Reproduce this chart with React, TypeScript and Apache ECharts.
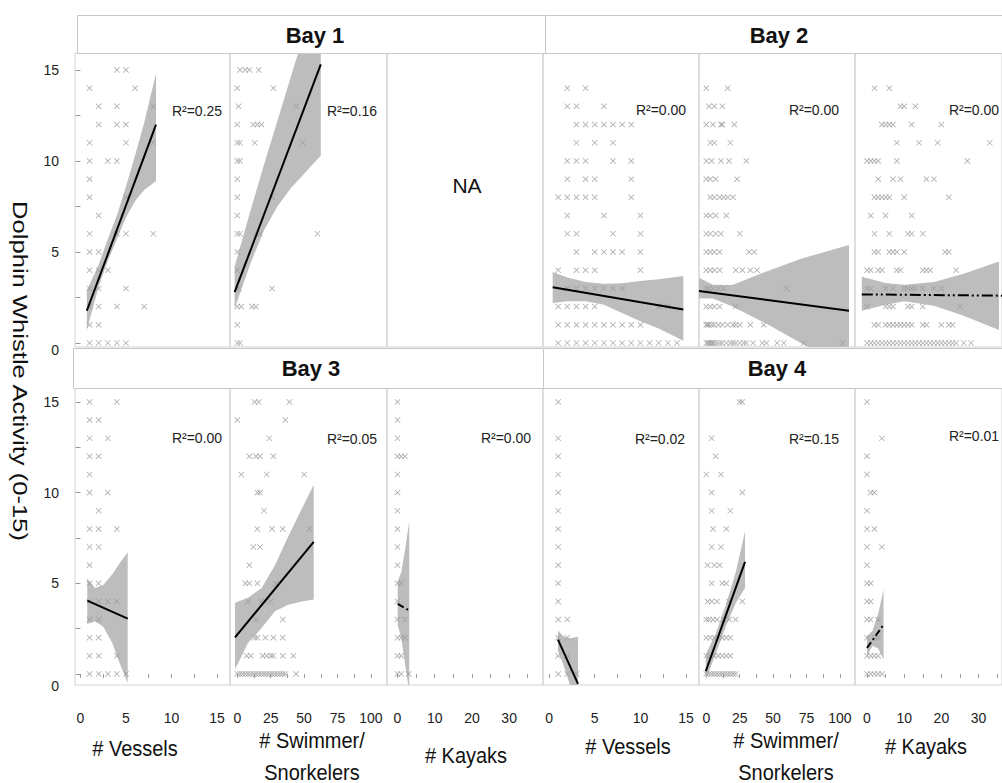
import React, { useEffect, useRef } from "react";
import * as echarts from "echarts";

const FONT = 'Arial, "Liberation Sans", Helvetica, sans-serif';

// ---------- scatter points: [y, x-values at that y] ----------
const B1_VESSELS: [number, number[]][] = [
  [15, [4, 5]], [14, [1, 6]], [13, [2, 4, 8]], [12, [2, 4, 5]], [11, [1, 5, 8]],
  [10, [1, 3, 4]], [9, [1]], [8, [1, 5]], [7, [2]], [6, [1, 4, 5, 8]], [5, [1, 2]],
  [4, [1, 2, 3]], [3, [1, 2, 5]], [2, [1, 2, 4, 7]], [1, [1, 2]], [0, [1, 2, 3, 4, 5]],
];
const B1_SWIM: [number, number[]][] = [
  [15, [2, 6, 9, 16]], [14, [0, 27]], [13, [1, 44]], [12, [0, 12, 15, 18]], [11, [0, 2, 13, 49]],
  [10, [0, 2]], [9, [0]], [8, [0, 26]], [7, [0]], [6, [0, 2, 14, 17, 60]], [5, [0]], [4, [0]],
  [3, [1, 26]], [2, [0, 3, 11, 14]], [1, [0]], [0, [0, 2]],
];
const B2_VESSELS: [number, number[]][] = [
  [14, [2, 4]], [13, [2, 3, 6]], [12, [3, 4, 5, 6, 7, 8, 9]], [11, [3, 5, 7]], [10, [2, 3, 4, 7, 9]],
  [9, [2, 4, 5, 9]], [8, [1, 2, 3, 4, 5, 9]], [7, [2, 6, 10]], [6, [2, 3, 7, 10]],
  [5, [3, 5, 6, 7, 8, 10]], [4, [1, 3, 4, 5, 10]], [3, [2, 3, 4, 5, 6, 7, 8]],
  [2, [1, 2, 3, 4, 5, 12, 13]], [1, [1, 2, 3, 4, 5, 6, 7, 8, 9, 10]],
  [0, [1, 2, 3, 4, 5, 6, 7, 8, 9, 10, 11, 12, 13, 14]],
];
const B2_SWIM: [number, number[]][] = [
  [14, [0, 16]], [13, [2, 6, 12]], [12, [0, 5, 11, 12, 21]], [11, [3, 6, 18]], [10, [0, 4, 11, 17, 30]],
  [9, [0, 3, 7, 23]], [8, [3, 6, 10, 13, 16, 20]], [7, [0, 3, 7, 15]], [6, [0, 3, 7, 11, 25]],
  [5, [0, 3, 6, 10, 32, 36]], [4, [0, 3, 6, 10, 22, 27, 33, 38]], [3, [0, 2, 5, 9, 13, 60]],
  [2, [0, 3, 6, 10, 22]], [1, [0, 1, 2, 4, 6, 9, 12, 16, 20, 22, 25, 33, 43]],
  [0, [0, 1, 2, 3, 4, 5, 6, 8, 10, 12, 15, 18, 20, 22, 25, 28, 30, 35, 42, 45, 53, 58, 73, 102]],
];
const B2_KAYAK: [number, number[]][] = [
  [14, [2, 6]], [13, [9, 10, 13]], [12, [4, 5, 6, 7, 12, 20]], [11, [8, 14, 19, 33]],
  [10, [0, 1, 2, 3, 8, 27]], [9, [3, 7, 9, 16, 18]], [8, [2, 3, 4, 5, 6, 10, 22]], [7, [1, 5, 12]],
  [6, [2, 6, 11, 12, 15]], [5, [2, 3, 6, 7, 8, 10, 21, 22]], [4, [0, 1, 3, 4, 8, 9, 15, 16, 17, 24]],
  [3, [0, 1, 5, 7, 10, 11, 12, 13, 15, 18, 20]], [2, [0, 5, 6, 7, 11, 12, 15, 25]],
  [1, [2, 3, 5, 6, 7, 8, 9, 10, 11, 12, 15, 16, 20, 22, 23]],
  [0, [0, 1, 2, 3, 4, 5, 6, 7, 8, 9, 10, 11, 12, 13, 14, 15, 16, 17, 18, 19, 20, 21, 22, 23, 24, 26, 28]],
];
const B3_VESSELS: [number, number[]][] = [
  [15, [1, 4]], [14, [1, 2]], [13, [1, 3]], [12, [1, 2]], [11, [1]], [10, [1, 3]], [9, [2]],
  [8, [1, 2, 4]], [7, [1, 2]], [6, [1]], [5, [1, 2]], [4, [1, 2, 3, 4]], [3, [1, 2]], [2, [1, 2]],
  [1, [1, 2, 4]], [0, [1, 2, 3, 4, 5]],
];
const B3_SWIM: [number, number[]][] = [
  [15, [13, 16, 39]], [14, [0, 36]], [13, [24]], [12, [9, 14, 17, 27]], [11, [3, 22, 50]],
  [10, [15, 17]], [9, [20]], [8, [15, 26, 34, 54]], [7, [12, 17]], [6, [9]], [5, [6, 9, 15, 29]],
  [4, [8, 18, 21, 25]], [3, [14, 34]], [2, [13, 15, 21, 27, 34]], [1, [7, 10, 19, 22, 25, 27, 34, 42]],
  [0, [0, 2, 4, 6, 8, 10, 12, 14, 16, 18, 20, 22, 24, 26, 28, 30, 32, 34, 36, 44]],
];
const B3_KAYAK: [number, number[]][] = [
  [15, [0]], [14, [0]], [13, [0]], [12, [0, 1, 2]], [11, [0]], [10, [0]], [9, [0]], [8, [0]],
  [7, [0]], [6, [0]], [5, [0, 1]], [4, [0]], [3, [0, 2]], [2, [0, 1, 2]], [1, [0, 1]], [0, [0, 1, 3]],
];
const B4_VESSELS: [number, number[]][] = [
  [15, [1]], [13, [1]], [12, [1]], [11, [1]], [10, [1]], [9, [1]], [8, [1]], [7, [1]], [6, [1]],
  [5, [1]], [4, [1]], [3, [1, 2]], [2, [1, 2]], [1, [1, 2]], [0, [1, 2, 3]],
];
const B4_SWIM: [number, number[]][] = [
  [15, [25, 27]], [13, [4]], [12, [7]], [11, [0, 11]], [10, [4, 27]], [9, [4, 18]], [8, [5, 15]],
  [7, [4, 11]], [6, [1, 6, 10]], [5, [4, 12, 15]], [4, [1, 4, 8, 17, 27]], [3, [0, 2, 5, 8, 13, 17, 22]],
  [2, [0, 3, 6, 9, 12, 15, 18]], [1, [0, 3, 6, 9, 12, 15, 18]], [0, [0, 2, 4, 6, 8, 10, 12, 14, 16, 18, 20, 22]],
];
const B4_KAYAK: [number, number[]][] = [
  [15, [0]], [13, [4]], [12, [0]], [11, [0]], [10, [1, 2]], [9, [0]], [8, [0, 2]], [7, [0, 4]],
  [6, [0]], [5, [0, 1]], [4, [0, 1]], [3, [0, 1, 3]], [2, [0, 2, 3]], [1, [0, 1, 2, 3]], [0, [0, 1, 2, 3, 4]],
];

// ---------- regression lines: [[x0, y0], [x1, y1]] ----------
const B1V_LINE = [[0.7, 1.77], [8.3, 12.0]];
const B1S_LINE = [[-2, 2.79], [62.5, 15.3]];
const B2V_LINE = [[0.4, 3.06], [14.7, 1.84]];
const B2S_LINE = [[-5.5, 2.86], [106.8, 1.77]];
const B2K_LINE = [[-1.4, 2.67], [36.3, 2.6]];
const B3V_LINE = [[0.75, 4.04], [5.19, 3.05]];
const B3S_LINE = [[-1.7, 2.02], [57.2, 7.28]];
const B3K_LINE = [[0.05, 3.86], [3.15, 3.49]];
const B4V_LINE = [[0.98, 1.89], [3.17, -0.55]];
const B4S_LINE = [[-0.4, 0.15], [29, 6.18]];
const B4K_LINE = [[0, 1.43], [4.45, 2.72]];

// ---------- confidence bands ----------
const B1V_BX = [0.7, 2, 3, 4, 5, 6, 7, 8.3];
const B1V_LO = [0.7, 3.1, 4.5, 5.7, 6.9, 7.8, 8.4, 8.9];
const B1V_HI = [2.9, 4.3, 5.7, 7.0, 8.6, 10.3, 12.1, 14.8];
const B1S_BX = [-2, 10, 20, 30, 40, 50, 62.5];
const B1S_LO = [1.9, 4.4, 6.2, 7.5, 8.5, 9.3, 10.3];
const B1S_HI = [4.2, 7.3, 9.8, 12.2, 14.6, 17, 20];
const B2V_BX = [0.4, 2, 4, 6, 8, 10, 12, 14.7];
const B2V_LO = [2.2, 2.3, 2.3, 2.1, 1.65, 1.2, 0.8, 0.13];
const B2V_HI = [3.9, 3.6, 3.35, 3.25, 3.28, 3.4, 3.5, 3.68];
const B2S_BX = [-5.5, 5, 19.5, 44.5, 72, 106.8];
const B2S_LO = [2.46, 2.45, 2.0, 1.08, -0.05, -1.48];
const B2S_HI = [3.59, 3.2, 3.19, 3.92, 4.65, 5.38];
const B2K_BX = [-1.4, 5, 10, 18, 26, 35.5];
const B2K_LO = [1.77, 2.1, 2.3, 2.05, 1.5, 0.71];
const B2K_HI = [3.64, 3.3, 3.2, 3.35, 3.8, 4.47];
const B3V_BX = [0.75, 1.6, 2.5, 3.5, 4.3, 5.19];
const B3V_LO = [2.76, 2.9, 2.6, 1.7, 0.6, -0.5];
const B3V_HI = [5.26, 4.74, 4.9, 5.5, 6.1, 6.71];
const B3S_BX = [-1.7, 8, 18.2, 28.2, 38.2, 48.2, 57.2];
const B3S_LO = [0.24, 1.7, 2.54, 3.46, 3.82, 4.0, 4.1];
const B3S_HI = [3.92, 4.2, 4.74, 6.0, 7.6, 9.1, 10.44];
const B3K_BX = [0.05, 1, 2, 3.15];
const B3K_LO = [2.7, 2.0, 0.6, -1.0];
const B3K_HI = [5.1, 5.6, 6.8, 8.4];
const B4V_BX = [0.98, 1.5, 2.1, 3.17];
const B4V_LO = [1.25, 0.6, -0.3, -2.0];
const B4V_HI = [2.39, 2.1, 1.95, 2.05];
const B4S_BX = [-0.4, 7, 15, 22, 29];
const B4S_LO = [-0.3, 1.1, 2.7, 3.9, 4.74];
const B4S_HI = [1.07, 2.2, 3.9, 5.6, 7.87];
const B4K_BX = [0, 1.5, 3, 4.45];
const B4K_LO = [1.0, 1.55, 1.4, 0.79];
const B4K_HI = [2.08, 2.4, 3.3, 4.65];

// ---------- labels ----------
const BAYS = ["Bay 1", "Bay 2", "Bay 3", "Bay 4"];
const R2 = ["R²=0.25", "R²=0.16", "", "R²=0.00", "R²=0.00", "R²=0.00",
  "R²=0.00", "R²=0.05", "R²=0.00", "R²=0.02", "R²=0.15", "R²=0.01"];
const X_TITLES = ["# Vessels", "# Swimmer/\nSnorkelers", "# Kayaks", "# Vessels", "# Swimmer/\nSnorkelers", "# Kayaks"];
const Y_TITLE = "Dolphin Whistle Activity (0-15)";

const VESSEL_TICKS = [0, 2.5, 5, 7.5, 10, 12.5, 15];
const VESSEL_LABELS = [0, 5, 10, 15];
const SWIM_TICKS = [0, 12.5, 25, 37.5, 50, 62.5, 75, 87.5, 100];
const SWIM_LABELS = [0, 25, 50, 75, 100];
const KAYAK_TICKS = [0, 5, 10, 15, 20, 25, 30, 35];
const KAYAK_LABELS = [0, 10, 20, 30];
const Y_TICKS = [0, 2.5, 5, 7.5, 10, 12.5, 15];
const Y_LABELS = [0, 5, 10, 15];

// ---------- layout ----------
const COL_LEFT = [75, 230, 387, 543, 699, 855];
const COL_WIDTH = [155, 157, 156, 156, 156, 147];
const ROW_TOP = [53, 388];
const ROW_HEIGHT = [294, 297];
const Y_RANGE = [[-0.22, 15.93], [-0.61, 15.77]];
const X_RANGE = [[-0.6, 16.43], [-5.46, 112.05], [-2.82, 39.1], [-0.66, 16.41], [-5.46, 111.3], [-3.23, 36.3]];
const R2_POS = [[197, 111], [352, 111], [0, 0], [661, 110], [814, 110], [974, 110],
  [197, 438], [352, 439], [506, 438], [660, 439], [814, 439], [974, 436]];

const X_SYMBOL = "path://M0,1L1,0L5,4L9,0L10,1L6,5L10,9L9,10L5,6L1,10L0,9L4,5Z";
const DASH_DOT_DOT = [11, 3, 2, 3, 2, 3];
const DASH_DOT = [7, 3, 2, 3];

const flat = (rows: [number, number[]][]) => rows.flatMap(([y, xs]) => xs.map((x) => [x, y]));

type Panel = { pts: [number, number[]][]; line: number[][]; bx: number[]; lo: number[]; hi: number[]; dash?: number[] } | null;

const PANELS: Panel[] = [
  { pts: B1_VESSELS, line: B1V_LINE, bx: B1V_BX, lo: B1V_LO, hi: B1V_HI },
  { pts: B1_SWIM, line: B1S_LINE, bx: B1S_BX, lo: B1S_LO, hi: B1S_HI },
  null,
  { pts: B2_VESSELS, line: B2V_LINE, bx: B2V_BX, lo: B2V_LO, hi: B2V_HI },
  { pts: B2_SWIM, line: B2S_LINE, bx: B2S_BX, lo: B2S_LO, hi: B2S_HI },
  { pts: B2_KAYAK, line: B2K_LINE, bx: B2K_BX, lo: B2K_LO, hi: B2K_HI, dash: DASH_DOT_DOT },
  { pts: B3_VESSELS, line: B3V_LINE, bx: B3V_BX, lo: B3V_LO, hi: B3V_HI },
  { pts: B3_SWIM, line: B3S_LINE, bx: B3S_BX, lo: B3S_LO, hi: B3S_HI },
  { pts: B3_KAYAK, line: B3K_LINE, bx: B3K_BX, lo: B3K_LO, hi: B3K_HI, dash: DASH_DOT },
  { pts: B4_VESSELS, line: B4V_LINE, bx: B4V_BX, lo: B4V_LO, hi: B4V_HI },
  { pts: B4_SWIM, line: B4S_LINE, bx: B4S_BX, lo: B4S_LO, hi: B4S_HI },
  { pts: B4_KAYAK, line: B4K_LINE, bx: B4K_BX, lo: B4K_LO, hi: B4K_HI, dash: DASH_DOT },
];

function buildOption() {
  const grid: any[] = [];
  const xAxis: any[] = [];
  const yAxis: any[] = [];
  const series: any[] = [];
  const AXIS_GRAY = "#9a9a9a";
  for (let i = 0; i < 12; i++) {
    const row = Math.floor(i / 6);
    const col = i % 6;
    grid.push({
      left: COL_LEFT[col], top: ROW_TOP[row], width: COL_WIDTH[col], height: ROW_HEIGHT[row],
      show: true, borderColor: "#d2d2d2", borderWidth: 1, backgroundColor: "transparent",
    });
    const kind = col % 3;
    const ticks = kind === 0 ? VESSEL_TICKS : kind === 1 ? SWIM_TICKS : KAYAK_TICKS;
    const labels = kind === 0 ? VESSEL_LABELS : kind === 1 ? SWIM_LABELS : KAYAK_LABELS;
    xAxis.push({
      type: "value", gridIndex: i, min: X_RANGE[col][0], max: X_RANGE[col][1],
      show: row === 1,
      axisLine: { show: false },
      axisTick: { show: true, customValues: ticks, length: 4, lineStyle: { color: AXIS_GRAY } },
      axisLabel: { customValues: labels, margin: 26, fontSize: 14, color: "#222", fontFamily: FONT },
      splitLine: { show: false },
    });
    yAxis.push({
      type: "value", gridIndex: i, min: Y_RANGE[row][0], max: Y_RANGE[row][1],
      show: col === 0,
      axisLine: { show: false },
      axisTick: { show: true, customValues: Y_TICKS, length: 5, lineStyle: { color: AXIS_GRAY } },
      axisLabel: {
        customValues: Y_LABELS, margin: 16, fontSize: 14, color: "#222", fontFamily: FONT,
        formatter: (v: number) => (v === 0 ? "{z|0}" : String(v)),
        rich: { z: { fontSize: 14, color: "#222", fontFamily: FONT, padding: [row === 0 ? 14 : 24, 0, 0, 0] } },
      },
      splitLine: { show: false },
    });
    const p = PANELS[i];
    if (!p) continue;
    series.push({
      type: "custom", xAxisIndex: i, yAxisIndex: i, clip: true, silent: true, z: 1,
      data: [[p.bx[0], p.lo[0]]],
      renderItem: (_params: any, api: any) => {
        const upper = p.bx.map((x, k) => api.coord([x, p.hi[k]]));
        const lower = p.bx.map((x, k) => api.coord([x, p.lo[k]])).reverse();
        return {
          type: "polygon",
          shape: { points: upper.concat(lower) },
          style: { fill: "#bdbdbd", stroke: "none" },
        };
      },
    });
    series.push({
      type: "scatter", xAxisIndex: i, yAxisIndex: i, data: flat(p.pts),
      symbol: X_SYMBOL, symbolSize: 6, itemStyle: { color: "#9c9c9c" }, silent: true, z: 2,
    });
    series.push({
      type: "line", xAxisIndex: i, yAxisIndex: i, data: p.line, symbol: "none", silent: true,
      lineStyle: { color: "#000", width: 2, type: p.dash || "solid" }, z: 3,
    });
  }

  const graphic: any[] = [];
  const headerRects = [[77, 15, 468, 38], [545, 15, 470, 38], [73, 348, 470, 40], [543, 348, 470, 40]];
  const headerText = [[315, 35], [779, 35], [311, 368], [777, 368]];
  headerRects.forEach((r, k) => {
    graphic.push({
      type: "rect", z: 10, shape: { x: r[0] + 0.5, y: r[1] + 0.5, width: r[2], height: r[3] },
      style: { fill: "#fff", stroke: "#c8c8c8", lineWidth: 1 },
    });
    graphic.push({
      type: "text", z: 11, x: headerText[k][0], y: headerText[k][1],
      style: { text: BAYS[k], fontSize: 22, fontWeight: "bold", fontFamily: FONT, fill: "#111", align: "center", verticalAlign: "middle" },
    });
  });
  R2.forEach((t, k) => {
    if (!t) return;
    graphic.push({
      type: "text", z: 11, x: R2_POS[k][0], y: R2_POS[k][1],
      style: { text: t, fontSize: 14, fontFamily: FONT, fill: "#222", align: "center", verticalAlign: "middle" },
    });
  });
  graphic.push({
    type: "text", z: 11, x: 467, y: 185,
    style: { text: "NA", fontSize: 21, fontFamily: FONT, fill: "#111", align: "center", verticalAlign: "middle" },
  });
  const xTitlePos = [[135, 748], [312, 756], [466, 755], [628, 746], [786, 756], [926, 746]];
  X_TITLES.forEach((t, k) => {
    graphic.push({
      type: "text", z: 11, x: xTitlePos[k][0], y: xTitlePos[k][1], scaleY: 1.12,
      style: { text: t, fontSize: 20, fontFamily: FONT, fill: "#111", align: "center", verticalAlign: "middle", lineHeight: 29 },
    });
  });
  graphic.push({
    type: "text", z: 11, x: 20, y: 371, rotation: -Math.PI / 2, scaleX: 1.28,
    style: { text: Y_TITLE, fontSize: 20, fontFamily: FONT, fill: "#111", align: "center", verticalAlign: "middle" },
  });

  return {
    animation: false,
    backgroundColor: "#fff",
    grid, xAxis, yAxis, series, graphic,
  };
}

export default function App() {
  const ref = useRef<HTMLDivElement>(null);
  useEffect(() => {
    if (!ref.current) return;
    const chart = echarts.init(ref.current, undefined, { renderer: "svg" });
    chart.setOption(buildOption() as any);
    return () => chart.dispose();
  }, []);
  return (
    <div
      ref={ref}
      style={{ position: "absolute", left: 0, top: 0, width: 1002, height: 783, background: "#fff" }}
    />
  );
}
